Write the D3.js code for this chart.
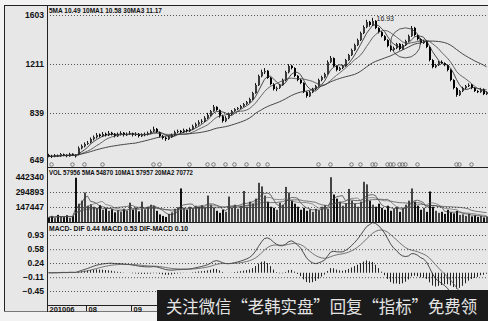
<!DOCTYPE html>
<html>
<head>
<meta charset="utf-8">
<script src="https://cdn.jsdelivr.net/npm/d3@7"></script>
<style>
  body { margin: 0; background: #f2f2f2; }
  svg { display: block; font-family: "Liberation Sans", Arial, sans-serif; }
</style>
</head>
<body>
<svg></svg>
<script>
// daily candles, price x100: [open, high, low, close]
var candles = [
  [669,674,660,665],[666,670,657,661],[662,673,660,669],[668,671,661,665],[664,677,662,673],
  [672,675,664,669],[670,672,660,665],[664,678,662,673],[674,676,665,669],[668,672,659,665],
  [670,704,668,697],[696,712,692,706],[704,720,700,714],[716,726,710,718],[720,740,716,734],
  [733,748,728,742],[741,758,736,750],[752,756,740,746],[745,762,742,754],[755,760,744,750],
  [749,766,746,758],[759,763,748,754],[755,758,740,746],[745,760,742,754],[752,765,748,758],
  [759,762,744,750],[749,760,746,754],[753,766,750,758],[757,760,744,750],[750,761,746,754],
  [755,758,740,746],[745,757,742,750],[749,760,745,754],[752,764,748,758],[757,772,754,766],
  [765,784,762,774],[775,778,758,762],[761,764,740,746],[745,750,732,738],[739,744,726,734],
  [733,748,730,742],[741,756,738,750],[749,768,746,762],[763,772,758,766],[767,770,756,762],
  [761,776,758,770],[771,774,760,766],[765,780,762,774],[773,792,770,786],[785,800,780,794],
  [793,810,788,802],[803,814,796,807],[806,826,802,819],[818,840,814,831],[830,862,826,854],
  [852,900,848,885],[886,890,855,862],[861,866,820,827],[826,832,800,807],[806,826,802,819],
  [818,842,814,835],[834,862,830,854],[853,876,848,869],[868,884,860,877],[876,900,870,892],
  [890,915,885,907],[908,930,900,922],[920,955,915,945],[944,1000,938,991],[990,1066,985,1052],
  [1050,1130,1044,1120],[1118,1168,1110,1150],[1148,1180,1135,1158],[1160,1165,1098,1105],[1106,1112,1050,1059],
  [1058,1066,1010,1021],[1020,1040,1005,1029],[1030,1060,1022,1052],[1050,1100,1045,1090],[1088,1160,1080,1150],
  [1148,1210,1140,1196],[1198,1205,1170,1181],[1180,1186,1110,1120],[1121,1128,1080,1090],[1091,1098,1058,1067],
  [1066,1072,990,998],[997,1004,955,968],[966,1006,960,998],[996,1030,990,1021],[1020,1052,1012,1044],
  [1043,1100,1038,1090],[1090,1122,1080,1112],[1110,1145,1102,1135],[1136,1240,1130,1227],[1226,1275,1218,1259],
  [1258,1264,1188,1196],[1195,1200,1155,1166],[1165,1190,1158,1181],[1180,1206,1172,1196],[1195,1252,1190,1243],
  [1242,1292,1236,1283],[1282,1334,1275,1323],[1322,1374,1315,1363],[1362,1414,1355,1403],[1402,1470,1395,1459],
  [1458,1520,1450,1507],[1506,1565,1498,1547],[1548,1556,1510,1523],[1522,1580,1515,1555],[1556,1562,1490,1499],
  [1498,1505,1455,1467],[1466,1474,1425,1435],[1434,1442,1395,1403],[1402,1410,1345,1355],[1354,1362,1310,1323],
  [1322,1350,1315,1339],[1338,1380,1330,1371],[1372,1378,1320,1331],[1330,1372,1325,1363],[1362,1405,1355,1395],
  [1394,1446,1388,1435],[1434,1515,1428,1499],[1500,1508,1432,1443],[1442,1450,1400,1411],[1410,1418,1368,1379],
  [1378,1404,1372,1395],[1394,1400,1338,1347],[1346,1352,1232,1243],[1242,1250,1178,1188],[1187,1212,1180,1203],
  [1202,1236,1196,1227],[1228,1240,1210,1219],[1218,1224,1194,1203],[1202,1208,1155,1166],[1165,1172,1080,1090],
  [1089,1096,1018,1029],[1028,1036,962,976],[975,1014,968,1006],[1005,1038,998,1029],[1028,1052,1020,1044],
  [1043,1064,1036,1052],[1053,1060,1020,1029],[1028,1034,998,1006],[1005,1012,990,998],[997,1030,992,1021],
  [1020,1026,975,983],[982,1004,976,998]
];

// volume, thousands of shares
var volumes = [
  45,60,38,70,52,48,66,40,58,435, 180,210,290,160,175,150,140,165,120,135,
  110,125,95,115,100,130,110,190,120,140, 105,200,125,150,170,160,110,75,60,50,
  80,95,130,145,330,140,120,150,135,160, 150,165,145,260,170,140,110,90,120,100,
  250,140,170,130,160,305,150,200,180,230, 385,350,260,200,150,140,120,190,170,345,
  290,210,180,150,120,140,110,125,100,130, 115,150,165,130,440,270,230,200,160,185,
  325,210,180,150,200,395,370,210,170,150, 180,140,120,160,110,130,150,100,140,170,
  210,330,200,160,120,140,100,300,150,110, 90,100,80,120,95,85,110,70,75,60,
  80,55,65,50,60,45,55
];

var priceTicks = [649, 839, 1211, 1603];
var volTicks = [147447, 294893, 442340];
var macdTicks = [-0.45, -0.11, 0.24, 0.58, 0.93];

// month ticks; only the first three labels are not covered by the banner
var monthIdx = [0, 13, 28, 43, 58, 73, 88, 103, 118, 133];
var monthLabels = ["201006", "08", "09"];

// days carrying a signal mark under the candles
var signalIdx = [1, 8, 12, 18, 35, 37, 47, 53, 55, 59, 62, 66, 70, 73, 90, 94, 101, 104,
                 108, 109, 113, 114, 115, 117, 118, 119, 123, 136, 137, 141];

var priceLegend = "5MA 10.49  10MA1 10.58  30MA3 11.17";
var volLegend = "VOL 57956  5MA 54870  10MA1 57957  20MA2 70772";
var macdLegend = "MACD- DIF  0.44  MACD  0.53  DIF-MACD 0.10";
var peakLabel = "16.93";
var peakIdx = 108;
var circledIdx = 119, circledPrice = 1380;
var bannerText = "关注微信“老韩实盘”回复“指标”免费领";

var width = 488, height = 321;
var left = 47, right = 488;
var n = candles.length;

var svg = d3.select("svg").attr("width", width).attr("height", height);

var x = d3.scaleBand().domain(d3.range(n)).range([left, right]);
var yPrice = d3.scaleLinear().domain(priceTicks).range([160, 113, 64, 15]);
var yVol = d3.scaleLinear().domain([0, 442340]).range([222, 177]);
var yMacd = d3.scaleLinear().domain([-0.45, 0.93]).range([291, 235]);

function ma(arr, k) {
  return arr.map((v, i) => d3.mean(arr.slice(Math.max(0, i - k + 1), i + 1)));
}
function ema(arr, k) {
  var a = 2 / (k + 1), prev;
  return arr.map((v, i) => (prev = i === 0 ? v : prev + a * (v - prev)));
}

var closes = candles.map(d => d[3]);
var dif = (function() {
  var c = closes.map(v => v / 100);
  var e12 = ema(c, 12), e26 = ema(c, 26);
  return e12.map((v, i) => v - e26[i]);
})();
var dea = ema(dif, 9);
var hist = dif.map((v, i) => v - dea[i]);   // DIF-MACD

// background
svg.append("rect").attr("x", 4).attr("y", 5).attr("width", width - 4).attr("height", 306)
  .attr("fill", "#e7e7e7");

function yAxis(scale, ticks, fmt, gridFilter) {
  var g = svg.append("g").attr("transform", "translate(" + left + ",0)")
    .call(d3.axisLeft(scale).tickValues(ticks).tickFormat(fmt)
      .tickSizeInner(-(right - left)).tickSizeOuter(0).tickPadding(3));
  g.select(".domain").remove();
  g.selectAll(".tick line")
    .attr("stroke", "#555").attr("stroke-dasharray", "1,2")
    .attr("display", d => gridFilter(d) ? null : "none");
  g.selectAll(".tick text")
    .attr("font-size", 8.5).attr("font-weight", "bold").attr("fill", "#111");
  return g;
}

yAxis(yPrice, priceTicks, d => d, d => d !== 649);
yAxis(yVol, volTicks, d => d, d => d !== 442340);
yAxis(yMacd, macdTicks, d3.format(".2f"), d => true);

// candles
var cx = i => x(i) + 1.5;
var priceG = svg.append("g");
priceG.selectAll("line").data(candles).join("line")
  .attr("x1", (d, i) => cx(i)).attr("x2", (d, i) => cx(i))
  .attr("y1", d => yPrice(d[1])).attr("y2", d => yPrice(d[2]))
  .attr("stroke", "#111").attr("stroke-width", 1);
priceG.selectAll("rect").data(candles).join("rect")
  .attr("x", (d, i) => x(i) + 1).attr("width", 2)
  .attr("y", d => yPrice(Math.max(d[0], d[3])))
  .attr("height", d => Math.max(1, Math.abs(yPrice(d[0]) - yPrice(d[3]))))
  .attr("fill", d => d[3] >= d[0] ? "#3a3a3a" : "#000");

var priceLine = d3.line().x((d, i) => cx(i)).y(d => yPrice(d));
[[5, "#222", 0.8], [10, "#444", 0.8], [30, "#333", 0.9]].forEach(m => {
  svg.append("path").datum(ma(closes, m[0])).attr("d", priceLine)
    .attr("fill", "none").attr("stroke", m[1]).attr("stroke-width", m[2]);
});

svg.append("text").attr("x", cx(peakIdx) + 4).attr("y", yPrice(candles[peakIdx][1]) + 3)
  .attr("font-size", 7).attr("fill", "#222").text(peakLabel);

svg.append("circle").attr("cx", cx(circledIdx)).attr("cy", yPrice(circledPrice)).attr("r", 15)
  .attr("fill", "none").attr("stroke", "#333").attr("stroke-width", 0.8);

svg.append("g").selectAll("circle").data(signalIdx).join("circle")
  .attr("cx", d => cx(d)).attr("cy", 164.5).attr("r", 1.8)
  .attr("fill", "none").attr("stroke", "#555").attr("stroke-width", 0.7);

// volume
svg.append("g").selectAll("rect").data(volumes).join("rect")
  .attr("x", (d, i) => x(i) + 1).attr("width", 2)
  .attr("y", d => yVol(d * 1000))
  .attr("height", d => yVol(0) - yVol(d * 1000))
  .attr("fill", (d, i) => candles[i][3] >= candles[i][0] ? "#444" : "#111");

var volLine = d3.line().x((d, i) => cx(i)).y(d => yVol(d * 1000));
[[5, "#333"], [10, "#666"], [20, "#444"]].forEach(m => {
  svg.append("path").datum(ma(volumes, m[0])).attr("d", volLine)
    .attr("fill", "none").attr("stroke", m[1]).attr("stroke-width", 0.7);
});

// macd
svg.append("g").selectAll("line").data(hist).join("line")
  .attr("x1", (d, i) => cx(i)).attr("x2", (d, i) => cx(i))
  .attr("y1", yMacd(0)).attr("y2", d => yMacd(d))
  .attr("stroke", "#222").attr("stroke-width", 1);
var macdLine = d3.line().x((d, i) => cx(i)).y(d => yMacd(d));
svg.append("path").datum(dif).attr("d", macdLine)
  .attr("fill", "none").attr("stroke", "#222").attr("stroke-width", 0.8);
svg.append("path").datum(dea).attr("d", macdLine)
  .attr("fill", "none").attr("stroke", "#555").attr("stroke-width", 0.8);

// panel separators and frame lines
var frame = svg.append("g").attr("stroke", "#222").attr("stroke-width", 1);
frame.append("line").attr("x1", 4).attr("x2", width).attr("y1", 5.5).attr("y2", 5.5);
frame.append("line").attr("x1", 4.5).attr("x2", 4.5).attr("y1", 5).attr("y2", 312);
frame.append("line").attr("x1", 4).attr("x2", width).attr("y1", 311.5).attr("y2", 311.5)
  .attr("stroke", "#777");
frame.append("line").attr("x1", left + 0.5).attr("x2", left + 0.5).attr("y1", 5).attr("y2", 312);
[167.5, 222.5, 305.5].forEach(y => {
  frame.append("line").attr("x1", left).attr("x2", width).attr("y1", y).attr("y2", y);
});

// month axis
var xAxis = svg.append("g").attr("transform", "translate(0,305)")
  .call(d3.axisBottom(x).tickValues(monthIdx)
    .tickFormat((d, i) => monthLabels[i] || "").tickSizeInner(6).tickSizeOuter(0));
xAxis.select(".domain").remove();
xAxis.selectAll(".tick").attr("transform", d => "translate(" + (x(d) + 0.5) + ",0)");
xAxis.selectAll(".tick line").attr("stroke", "#222");
xAxis.selectAll(".tick text").filter((d, i) => !monthLabels[i]).remove();
xAxis.selectAll(".tick text").attr("text-anchor", "start").attr("x", 2).attr("y", 1.5)
  .attr("font-size", 7.5).attr("font-weight", "bold").attr("fill", "#111");

// legends
function legend(y, txt, len) {
  svg.append("text").attr("x", 49).attr("y", y).attr("font-size", 7.5).attr("font-weight", "bold")
    .attr("fill", "#111").attr("textLength", len).attr("lengthAdjust", "spacingAndGlyphs").text(txt);
}
legend(13, priceLegend, 113);
legend(175, volLegend, 144);
legend(231, macdLegend, 139);

// watermark banner
svg.append("rect").attr("x", 157).attr("y", 290).attr("width", width - 157).attr("height", height - 290)
  .attr("fill", "#1b1b1b");
svg.append("text").attr("x", 166).attr("y", 313)
  .attr("font-family", "'Noto Sans CJK SC', sans-serif").attr("font-size", 17)
  .attr("fill", "#e4e4e4").attr("textLength", 311).attr("lengthAdjust", "spacingAndGlyphs")
  .text(bannerText);
</script>
</body>
</html>
